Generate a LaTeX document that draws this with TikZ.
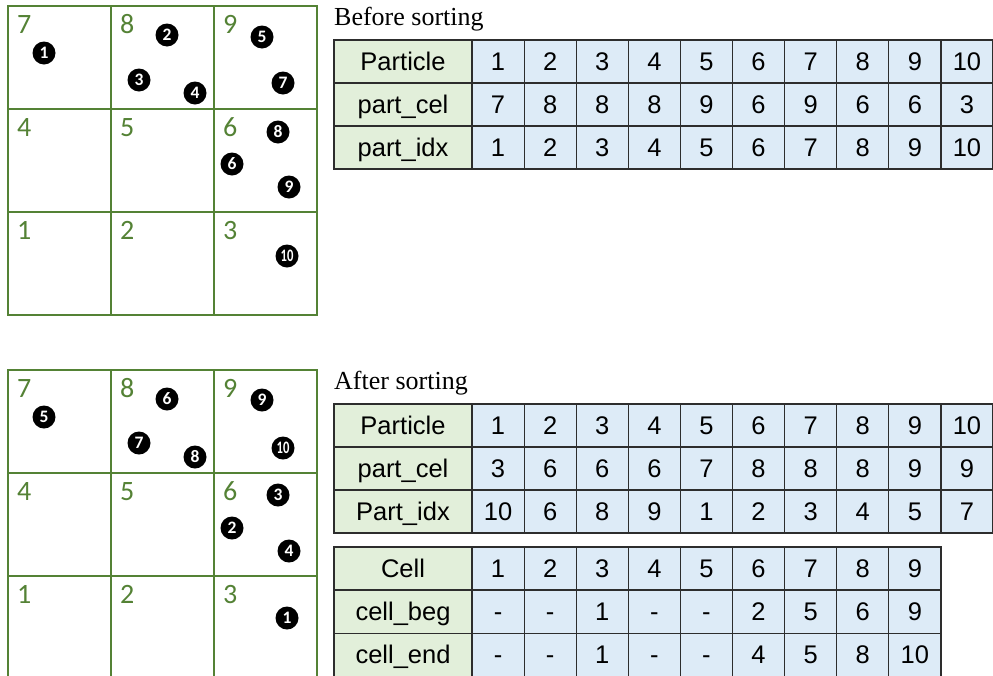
\documentclass[tikz,border=0pt]{standalone}
\usepackage{fontspec}
\setmainfont{Liberation Serif}
\setsansfont{Liberation Sans}
\newfontfamily\calfont{Carlito}
\definecolor{gridgreen}{RGB}{84,130,53}
\definecolor{hdrgreen}{RGB}{226,239,218}
\definecolor{cellblue}{RGB}{221,235,247}
\definecolor{tblline}{RGB}{45,45,45}
\tikzset{
  gridcell/.style={draw=gridgreen, line width=2},
  celllabel/.style={anchor=base west, inner sep=0, text=gridgreen, font=\calfont\fontsize{28}{30}\selectfont},
  particle/.style={circle, fill=black, minimum size=23, inner sep=0, text=white, font=\calfont\bfseries\fontsize{17.5}{18}\selectfont},
  heading/.style={anchor=base west, inner sep=0, font=\fontsize{26}{28}\selectfont},
  tcell/.style={draw=tblline, line width=1.2, inner sep=0, minimum height=43, text height=17.5, text depth=0, font=\sffamily\fontsize{25.5}{28}\selectfont},
  hdrcell/.style={tcell, fill=hdrgreen, minimum width=138},
  valcell/.style={tcell, fill=cellblue, minimum width=52.1},
}
\begin{document}
\begin{tikzpicture}[x=1pt,y=-1pt]
\clip (0,0) rectangle (993,675);
\fill[white] (0,0) rectangle (993,675);

% ---------- grids ----------
\foreach \oy/\gid in {0/a,364/b}{
  \foreach \r in {0,1,2}{
    \foreach \c in {0,1,2}{
      \draw[gridcell] (8+103*\c,6+\oy+103*\r) rectangle +(103,103);
    }
  }
  \foreach \lab/\c/\r in {7/0/0,8/1/0,9/2/0,4/0/1,5/1/1,6/2/1,1/0/2,2/1/2,3/2/2}{
    \node[celllabel] (lab\gid\lab) at (8+103*\c+9,6+\oy+103*\r+27) {\lab};
  }
}

% ---------- particles, before ----------
\foreach \n/\px/\py in {1/44/53,2/167/35,3/139/80,4/195/93,5/262/37,7/283/83,8/278/132,6/232/164,9/289/187}{
  \node[particle] (pa\n) at (\px,\py) {\n};
}
\node[particle] (pa10) at (287,256) {\scalebox{0.72}[1]{10}};

% ---------- particles, after ----------
\foreach \n/\px/\py in {5/44/417,6/167/399,7/139/443,8/195/457,9/262/400,3/278/495,2/232/528,4/289/551,1/287/618}{
  \node[particle] (pb\n) at (\px,\py) {\n};
}
\node[particle] (pb10) at (283,448) {\scalebox{0.72}[1]{10}};

% ---------- headings ----------
\node[heading] (hbefore) at (334,25) {Before sorting};
\node[heading] (hafter) at (334,389) {After sorting};

% ---------- tables ----------
\foreach \tid/\top/\name/\vals in {
  a1/40/Particle/{1,2,3,4,5,6,7,8,9,10},
  a2/83/part\_cel/{7,8,8,8,9,6,9,6,6,3},
  a3/126/part\_idx/{1,2,3,4,5,6,7,8,9,10},
  b1/404/Particle/{1,2,3,4,5,6,7,8,9,10},
  b2/447/part\_cel/{3,6,6,6,7,8,8,8,9,9},
  b3/490/Part\_idx/{10,6,8,9,1,2,3,4,5,7},
  c1/547/Cell/{1,2,3,4,5,6,7,8,9},
  c2/590.5/cell\_beg/{-,-,1,-,-,2,5,6,9},
  c3/633.5/cell\_end/{-,-,1,-,-,4,5,8,10}}{
  \node[hdrcell] (h\tid) at (403,\top+21.5) {\name};
  \foreach \v [count=\k] in \vals {
    \node[valcell] (v\tid-\k) at (472+52.1*\k-26.05,\top+21.5) {\v};
  }
}
\end{tikzpicture}
\end{document}
